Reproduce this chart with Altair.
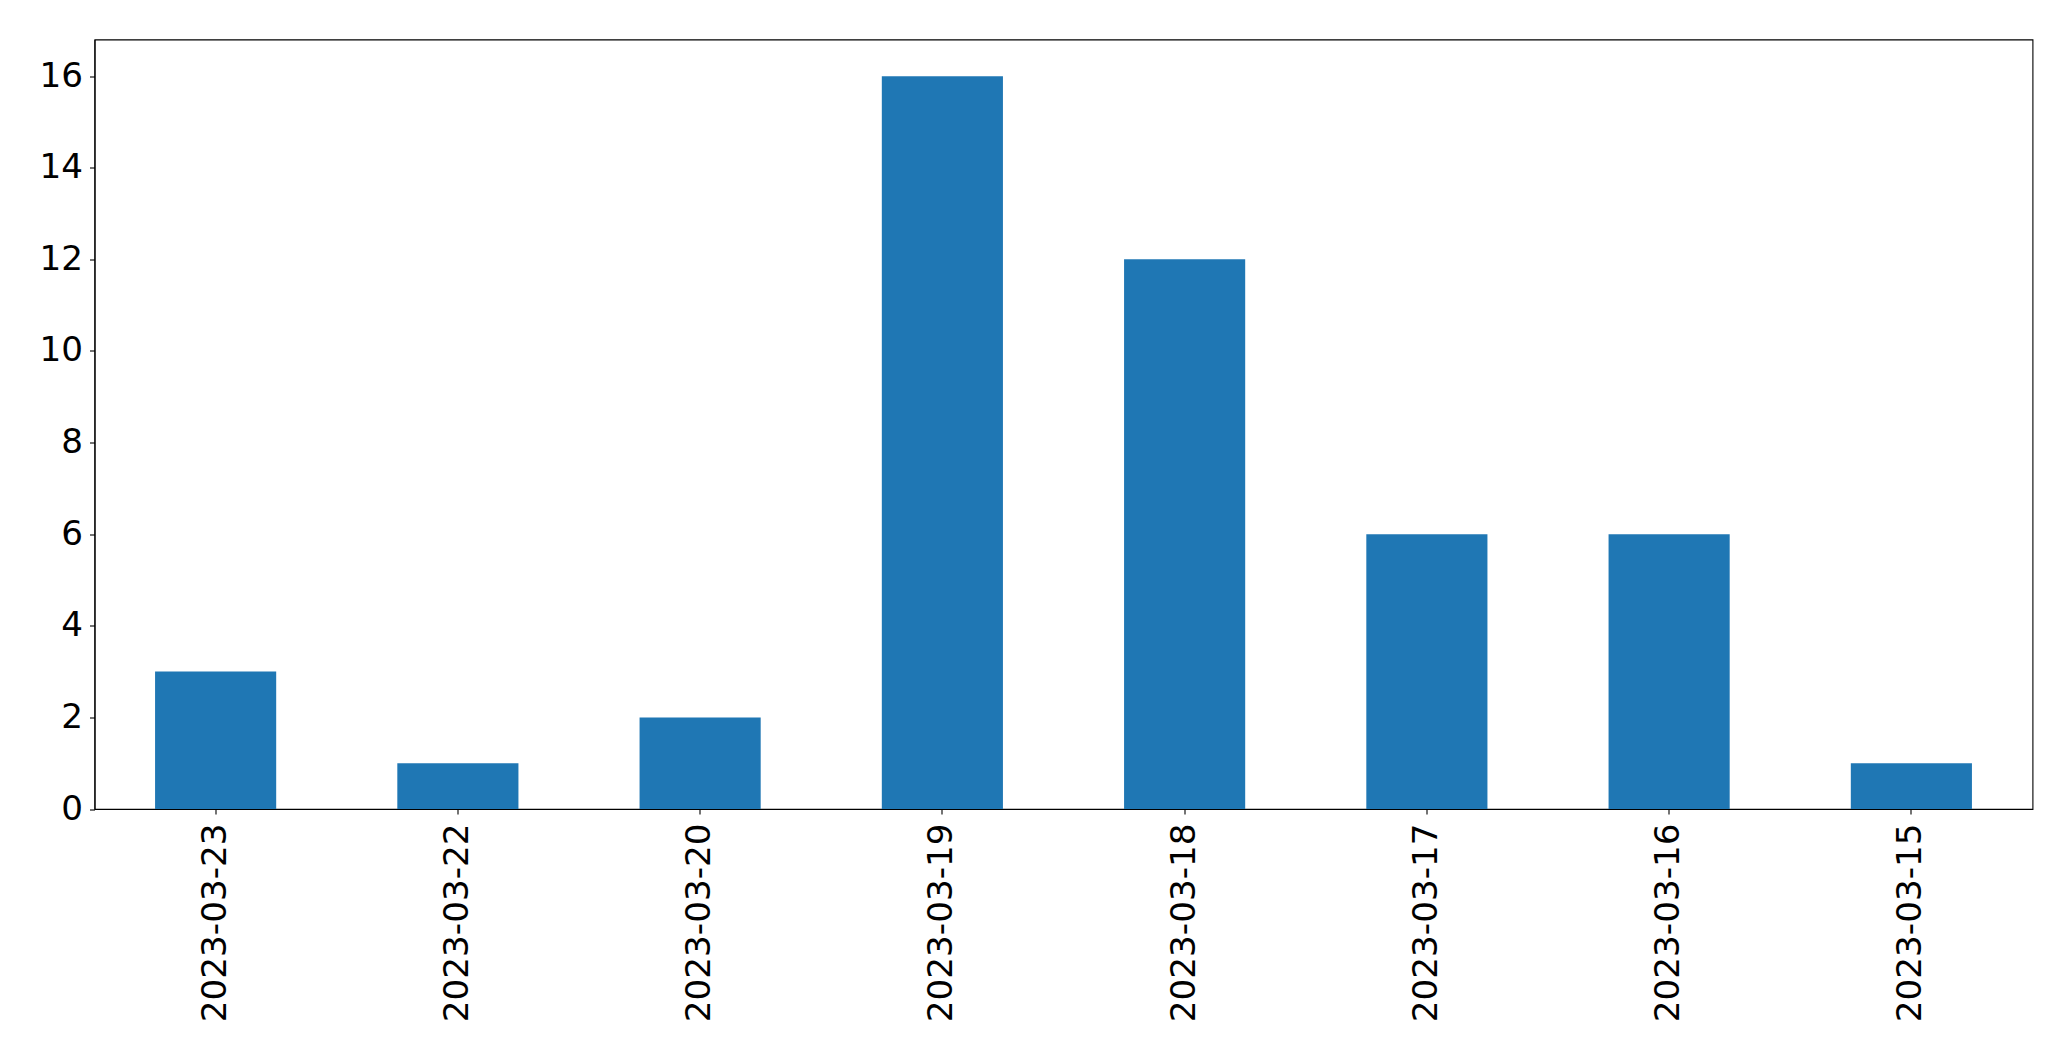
import altair as alt
import pandas as pd

dates = ["2023-03-23", "2023-03-22", "2023-03-20", "2023-03-19",
         "2023-03-18", "2023-03-17", "2023-03-16", "2023-03-15"]
counts = [3, 1, 2, 16, 12, 6, 6, 1]

df = pd.DataFrame({"date": dates, "count": counts})

FONT = "DejaVu Sans"
FS = 34.2

chart = alt.Chart(df).mark_bar(color="#1f77b4").encode(
    x=alt.X("date:N", sort=dates, title=None,
            scale=alt.Scale(paddingInner=0.5, paddingOuter=0.25),
            axis=alt.Axis(labelAngle=-90, labelAlign="right", labelBaseline="middle",
                          labelFont=FONT, labelFontSize=FS, labelColor="black",
                          labelLimit=600, labelPadding=9, tickSize=5, tickColor="black",
                          tickWidth=1.1, domainColor="black", domainWidth=1.1, grid=False)),
    y=alt.Y("count:Q", title=None,
            scale=alt.Scale(domain=[0, 16.8], nice=False, zero=True),
            axis=alt.Axis(values=[0, 2, 4, 6, 8, 10, 12, 14, 16],
                          labelFont=FONT, labelFontSize=FS, labelColor="black",
                          labelPadding=7, tickSize=5, tickColor="black", tickWidth=1.1,
                          domainColor="black", domainWidth=1.1, grid=False)),
).properties(
    width=1938, height=769.5,
    background="white",
    autosize=alt.AutoSizeParams(type="none"),
    padding={"left": 86.5, "top": 31.5, "right": 20, "bottom": 240},
).configure_view(stroke="black", strokeWidth=1.1, strokeOpacity=1)

chart.save("out.html", embed_options={"renderer": "svg", "actions": False})
